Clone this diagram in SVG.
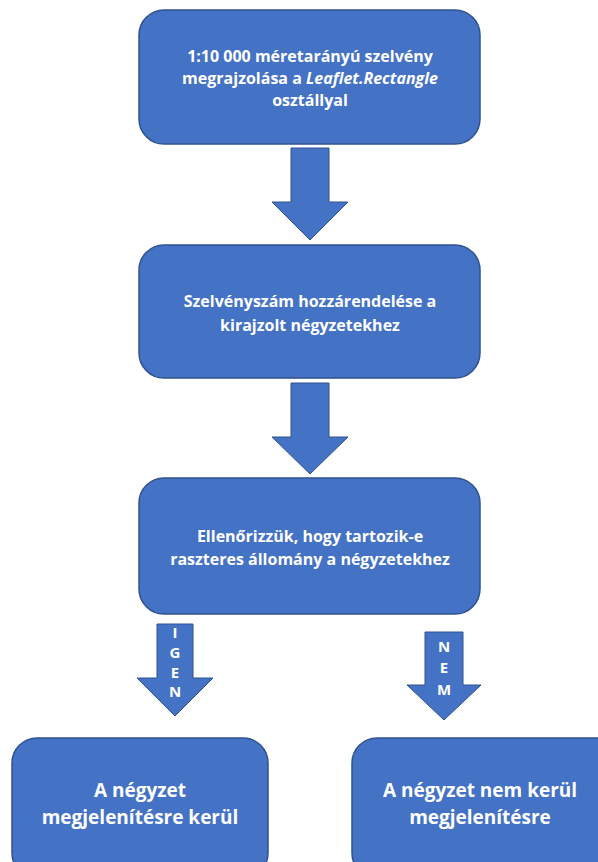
<svg xmlns="http://www.w3.org/2000/svg" width="598" height="862" viewBox="0 0 598 862">
<style>
.box{fill:#4472C4;stroke:#2F528F;stroke-width:1.5}
.arr{fill:#4472C4;stroke:#2F528F;stroke-width:1}
.t{font-family:"Open Sans","Liberation Sans",sans-serif;font-weight:bold;fill:#fff;text-anchor:middle}
.m{font-size:16px}
.b{font-size:19px}
.l{font-size:15px}
</style>
<rect width="598" height="862" fill="#fff"/>
<g id="n1">
<rect class="box" x="139" y="10" width="341" height="134" rx="25"/>
<text class="t m" x="310" y="62">1:10 000 méretarányú szelvény</text>
<text class="t m" x="310" y="84">megrajzolása a <tspan font-style="italic">Leaflet.Rectangle</tspan></text>
<text class="t m" x="310" y="106">osztállyal</text>
</g>
<g id="n2">
<rect class="box" x="139" y="245" width="341" height="133" rx="25"/>
<text class="t m" x="310" y="307">Szelvényszám hozzárendelése a</text>
<text class="t m" x="310" y="331">kirajzolt négyzetekhez</text>
</g>
<g id="n3">
<rect class="box" x="139" y="478" width="341" height="136" rx="25"/>
<text class="t m" x="310" y="542">Ellenőrizzük, hogy tartozik-e</text>
<text class="t m" x="310" y="565">raszteres állomány a négyzetekhez</text>
</g>
<g id="n4">
<rect class="box" x="12" y="738" width="256" height="140" rx="25"/>
<text class="t b" x="140" y="797">A négyzet</text>
<text class="t b" x="140" y="824">megjelenítésre kerül</text>
</g>
<g id="n5">
<rect class="box" x="352" y="738" width="270" height="140" rx="25"/>
<text class="t b" x="480" y="797">A négyzet nem kerül</text>
<text class="t b" x="480" y="824">megjelenítésre</text>
</g>
<g id="connectors">
<polygon class="arr" points="291,148 329,148 329,202 348,202 310,240 272,202 291,202"/>
<polygon class="arr" points="291,383 329,383 329,437 348,437 310,474 272,437 291,437"/>
<g id="igen">
<polygon class="arr" points="157,624 193,624 193,678 213,678 175,716 137,678 157,678"/>
<text class="t l" x="175" y="638">I</text>
<text class="t l" x="175" y="658">G</text>
<text class="t l" x="175" y="678">E</text>
<text class="t l" x="175" y="697">N</text>
</g>
<g id="nem">
<polygon class="arr" points="425,632 463,632 463,685 481,685 444,720 407,685 425,685"/>
<text class="t l" x="444" y="652">N</text>
<text class="t l" x="444" y="673">E</text>
<text class="t l" x="444" y="695">M</text>
</g>
</g>
</svg>
